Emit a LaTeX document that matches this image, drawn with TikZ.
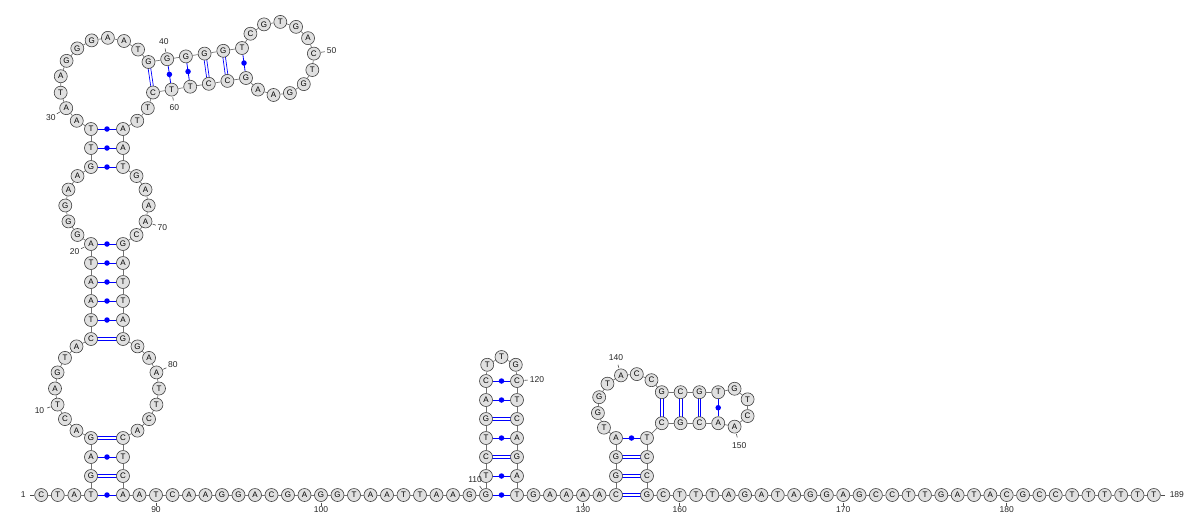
\documentclass[tikz,border=0pt]{standalone}
\usepackage{fontspec}
\setmainfont{Liberation Sans}
\usetikzlibrary{calc, backgrounds}

\tikzset{
  nt/.style={circle, draw=black!75, fill=black!12, line width=0.6pt, minimum size=13pt, inner sep=0pt, font=\fontsize{8}{8}\selectfont},
  backbone/.style={draw=black!55, line width=0.7pt},
  wcline/.style={draw=blue, line width=0.7pt},
  gtpair/.style={draw=blue, line width=0.8pt},
  pairdot/.style={circle, fill=blue, inner sep=0pt, minimum size=5.5pt},
  numtick/.style={draw=black!70, line width=0.6pt},
  numlabel/.style={font=\fontsize{8.5}{9}\selectfont, text=black!85, inner sep=0pt}
}

\begin{document}
\begin{tikzpicture}[x=1pt, y=-1pt]
    \useasboundingbox (0,0) rectangle (1200,515);
    % loop centres
    \coordinate (c1) at (107,388.5);
    \coordinate (c2) at (107,205.5);
    \coordinate (c3) at (107,84.8);
    \coordinate (c4) at (277.5,58.5);
    \coordinate (c5) at (501.5,374);
    \coordinate (c6) at (631.5,407.7);
    \coordinate (c7) at (730,407.7);
    % positions
    \foreach \i in {1,...,4} \coordinate (p\i) at ({91-16.6*(4-\i)},495);
    \foreach \i in {5,6,7} \coordinate (p\i) at (91,{495-19*(\i-4)});
    \foreach \i in {8,...,14} \coordinate (p\i) at ($(c1)+({107.9+18.03*(\i-7)}:52)$);
    \foreach \i in {15,...,20} \coordinate (p\i) at (91,{339-19*(\i-15)});
    \foreach \i in {21,...,25} \coordinate (p\i) at ($(c2)+({112.57+22.48*(\i-20)}:41.7)$);
    \foreach \i in {26,27,28} \coordinate (p\i) at (91,{167-19*(\i-26)});
    \foreach \i in {29,...,38} \coordinate (p\i) at ($(c3)+({109.9+20.15*(\i-28)}:47)$);
    \foreach \i in {39,...,44} \coordinate (p\i) at ({148.5+18.7*(\i-39)},{62-2.8*(\i-39)});
    \foreach \i in {45,...,55} \coordinate (p\i) at ($(c4)+({196.5+25.97*(\i-44)}:36.7)$);
    \foreach \i in {56,...,61} \coordinate (p\i) at ({153+18.6*(61-\i)},{92.5-2.9*(61-\i)});
    \foreach \i in {62,63} \coordinate (p\i) at ($(c3)+({70.1-20.15*(64-\i)}:47)$);
    \foreach \i in {64,65,66} \coordinate (p\i) at (123,{129+19*(\i-64)});
    \foreach \i in {67,...,71} \coordinate (p\i) at ($(c2)+({292.57+22.48*(\i-66)}:41.7)$);
    \foreach \i in {72,...,77} \coordinate (p\i) at (123,{244+19*(\i-72)});
    \foreach \i in {78,...,84} \coordinate (p\i) at ($(c1)+({287.9+18.03*(\i-77)}:52)$);
    \foreach \i in {85,...,88} \coordinate (p\i) at (123,{438+19*(\i-85)});
    \foreach \i in {89,...,110} \coordinate (p\i) at ({123+16.5*(\i-88)},495);
    \foreach \i in {111,...,116} \coordinate (p\i) at (486,{495-19*(\i-110)});
    \foreach \i in {117,118,119} \coordinate (p\i) at ($(c5)+({155.7+57.15*(\i-116)}:17)$);
    \foreach \i in {120,...,126} \coordinate (p\i) at (517,{381+19*(\i-120)});
    \foreach \i in {127,...,132} \coordinate (p\i) at ({517+16.5*(\i-126)},495);
    \foreach \i in {133,134,135} \coordinate (p\i) at (616,{495-19*(\i-132)});
    \foreach \i in {136,...,142} \coordinate (p\i) at ($(c6)+({117.1+26.98*(\i-135)}:34)$);
    \foreach \i in {143,...,146} \coordinate (p\i) at ({661.8+18.8*(\i-143)},392.2);
    \foreach \i in {147,...,150} \coordinate (p\i) at ($(c7)+({232.65+50.94*(\i-146)}:19.5)$);
    \foreach \i in {151,...,154} \coordinate (p\i) at ({661.8+18.8*(154-\i)},423.2);
    \foreach \i in {155,...,158} \coordinate (p\i) at (647,{438+19*(\i-155)});
    \foreach \i in {159,...,189} \coordinate (p\i) at ({647+16.35*(\i-158)},495);
    % nucleotides
    \foreach \l [count=\i] in {C,T,A,T,G,A,G,A,C,T,A,G,T,A,C,T,A,A,T,A,
        G,G,G,A,A,G,T,T,A,A,T,A,G,G,G,A,A,T,G,G,
        G,G,G,T,C,G,T,G,A,C,T,G,G,A,A,G,C,C,T,T,
        C,T,T,A,A,T,G,A,A,A,C,G,A,T,T,A,G,G,A,A,
        T,T,C,A,C,T,C,A,A,T,C,A,A,G,G,A,C,G,A,G,
        G,T,A,A,T,T,A,A,G,G,T,C,T,G,A,C,T,T,G,C,
        T,C,A,G,A,T,G,A,A,A,A,C,G,G,A,T,G,G,T,A,
        C,C,G,C,G,T,G,T,C,A,A,C,G,C,T,C,C,G,C,T,
        T,T,A,G,A,T,A,G,G,A,G,C,C,T,T,G,A,T,A,C,
        G,C,C,T,T,T,T,T,T}
        \node[nt] (n\i) at (p\i) {\l};
    % backbone
    \foreach \i [remember=\i as \j (initially 1)] in {2,...,189}
        \draw[backbone] (n\j) -- (n\i);
    % pairs
    \begin{scope}[on background layer]
        \foreach \a/\b in {5/87,7/85,15/77,39/61,42/58,43/57,112/124,114/122,
            132/158,133/157,134/156,143/154,144/153,145/152}
        {
            \draw[wcline] ($(n\a)!1.3pt!90:(n\b)$) -- ($(n\b)!1.3pt!-90:(n\a)$);
            \draw[wcline] ($(n\a)!1.3pt!-90:(n\b)$) -- ($(n\b)!1.3pt!90:(n\a)$);
        }
        \foreach \a/\b in {4/88,6/86,16/76,17/75,18/74,19/73,20/72,26/66,27/65,28/64,
            40/60,41/59,44/56,110/126,111/125,113/123,115/121,116/120,135/155,146/151}
            \draw[gtpair] (n\a) -- (n\b) node[midway, pairdot] {};
    \end{scope}
    % numbering
    \foreach \i/\ang/\d in {1/180/18, 10/162/19, 20/155/18, 30/149/18, 40/259/18,
        50/350/18, 60/81/18, 70/20/18, 80/335/18, 90/90/15, 100/90/15,
        110/235/19, 120/355/20, 130/90/15, 140/254/18, 150/76/19, 160/90/15,
        170/90/15, 180/90/15, 189/0/23}
    {
        \draw[numtick] ($(n\i)+(\ang:7.5)$) -- ($(n\i)+(\ang:11)$);
        \node[numlabel] at ($(n\i)+(\ang:\d)$) {\i};
    }
\end{tikzpicture}
\end{document}
